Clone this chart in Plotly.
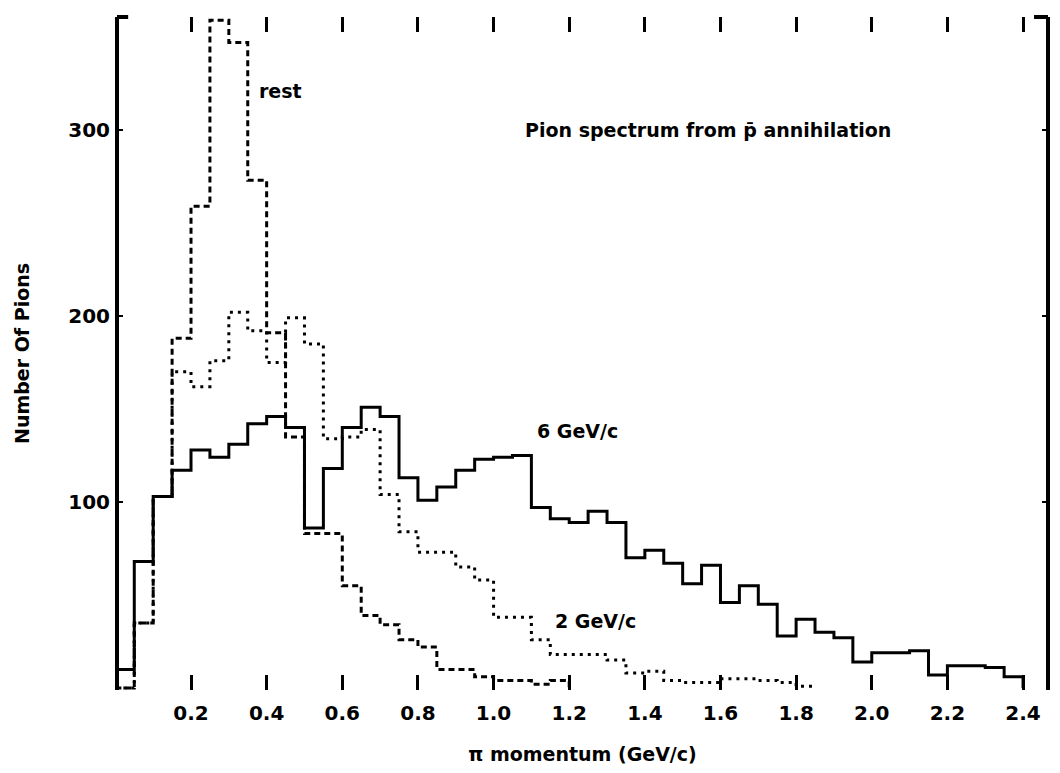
import numpy as np
import plotly.graph_objects as go

# ---- data (counts per 0.05 GeV/c bin, starting at 0) ----
bin_width = 0.05
rest_counts = [0, 35, 103, 188, 259, 359, 347, 273, 191, 135, 83, 83, 55, 39, 34,
               26, 22, 10, 10, 6, 4, 4, 2, 4]
gev2_counts = [0, 35, 103, 170, 162, 176, 202, 192, 175, 199, 185, 134, 135, 139,
               104, 84, 73, 73, 65, 58, 38, 38, 26, 18, 18, 18, 15, 8, 9, 4, 3, 3,
               5, 5, 4, 3, 1]
gev6_counts = [10, 68, 103, 117, 128, 124, 131, 142, 146, 140, 86, 118, 140, 151,
               146, 113, 101, 108, 117, 123, 124, 125, 97, 91, 89, 95, 89, 70, 74,
               67, 56, 66, 46, 55, 45, 28, 37, 30, 27, 14, 19, 19, 20, 7, 12, 12,
               11, 6]

x_tick_vals = [0.2, 0.4, 0.6, 0.8, 1.0, 1.2, 1.4, 1.6, 1.8, 2.0, 2.2, 2.4]
x_tick_text = ["0.2", "0.4", "0.6", "0.8", "1.0", "1.2", "1.4", "1.6", "1.8",
               "2.0", "2.2", "2.4"]
y_tick_vals = [100, 200, 300]
y_tick_text = ["100", "200", "300"]


def step_xy(counts):
    edges = np.arange(len(counts) + 1) * bin_width
    xs = np.concatenate([[0.0], edges])
    ys = np.concatenate([[0.0], np.asarray(counts, dtype=float), [0.0]])
    return xs, ys


FONT = "DejaVu Sans, Liberation Sans, sans-serif"

fig = go.Figure()
for counts, dash, name in [
    (gev6_counts, "solid", "6 GeV/c"),
    (gev2_counts, "3px,5px", "2 GeV/c"),
    (rest_counts, "6px,4px", "rest"),
]:
    xs, ys = step_xy(counts)
    fig.add_trace(go.Scatter(x=xs, y=ys, mode="lines", name=name,
                             line=dict(color="black", width=3, dash=dash,
                                       shape="hv")))

annos = [
    dict(text="rest", x=0.374, y=321),
    dict(text="Pion spectrum from p\u0304 annihilation", x=1.078, y=300),
    dict(text="6 GeV/c", x=1.109, y=138),
    dict(text="2 GeV/c", x=1.157, y=36),
]
for a in annos:
    fig.add_annotation(text=a["text"], x=a["x"], y=a["y"], xref="x", yref="y",
                       xanchor="left", yanchor="middle", showarrow=False,
                       font=dict(family=FONT, size=19, color="black",
                                 weight="bold"))

# frame: heavy left/right borders with small corner stubs at the top
frame = dict(type="line", xref="paper", yref="paper",
             line=dict(color="black", width=4))
fig.add_shape(**frame, x0=0, x1=0, y0=0, y1=1)
fig.add_shape(**frame, x0=1, x1=1, y0=0, y1=1)
fig.add_shape(**frame, x0=0, x1=0.012, y0=1, y1=1)
fig.add_shape(**frame, x0=0.985, x1=1, y0=1, y1=1)

# the page body has an 8px margin; size the figure so the page never scrolls
fig.update_layout(
    width=1044, height=757,
    margin=dict(l=109, r=4, t=9, b=75),
    paper_bgcolor="white", plot_bgcolor="white",
    showlegend=False,
    font=dict(family=FONT, color="black", size=19, weight="bold"),
)
fig.update_xaxes(
    range=[0.0043, 2.466], tickvals=x_tick_vals, ticktext=x_tick_text,
    showline=False, showgrid=False, zeroline=False, automargin=False,
    ticks="inside", ticklen=15, tickwidth=3, tickcolor="black", mirror="ticks",
    ticklabelstandoff=9,
    tickfont=dict(family=FONT, size=20, color="black", weight="bold"),
    title=dict(text="\u03c0 momentum (GeV/c)", standoff=26,
               font=dict(family=FONT, size=19, color="black", weight="bold")),
)
fig.update_yaxes(
    range=[-1.08, 360.75], tickvals=y_tick_vals, ticktext=y_tick_text,
    showline=False, mirror="ticks",
    showgrid=False, zeroline=False, automargin=False,
    ticks="inside", ticklen=6, tickwidth=2, tickcolor="black",
    ticklabelstandoff=6,
    tickfont=dict(family=FONT, size=20, color="black", weight="bold"),
    title=dict(text="Number Of Pions", standoff=33,
               font=dict(family=FONT, size=19, color="black", weight="bold")),
)

fig.write_html("out.html")
